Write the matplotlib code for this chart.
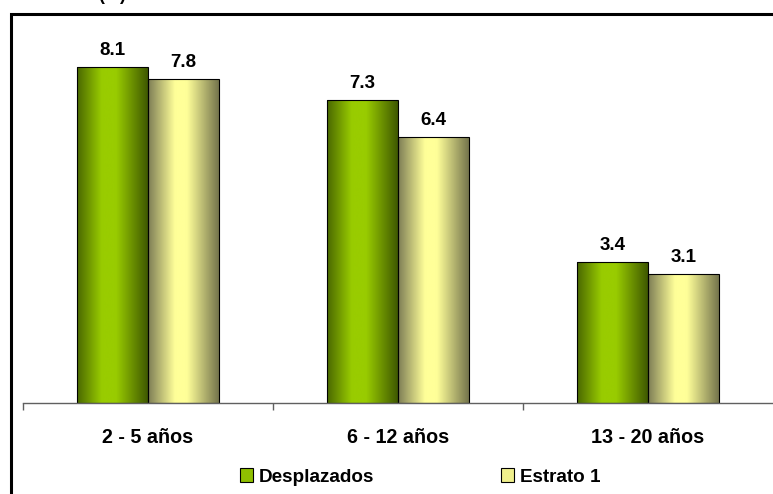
#!/usr/bin/python
import matplotlib.pyplot as plt
import matplotlib.patches as mpatches
from matplotlib.colors import LinearSegmentedColormap
import numpy as np

plt.rcParams['font.family'] = ['Liberation Sans', 'DejaVu Sans']
plt.rcParams['font.weight'] = 'bold'

categories = ['2 - 5 años', '6 - 12 años', '13 - 20 años']
desplazados = [8.1, 7.3, 3.4]
estrato1 = [7.8, 6.4, 3.1]
series_names = ['Desplazados', 'Estrato 1']

# cylinder-like shading across each bar: dark edge, bright middle, dark edge
green_cmap = LinearSegmentedColormap.from_list(
    'green', [(0.0, '#4a6800'), (0.35, '#99cc00'), (0.55, '#99cc00'), (1.0, '#3f5800')])
yellow_cmap = LinearSegmentedColormap.from_list(
    'yellow', [(0.0, '#7d7d55'), (0.38, '#ffff99'), (0.55, '#ffff99'), (1.0, '#74744c')])


def shade_bars(ax, rects, cmap):
    grad = np.linspace(0, 1, 256).reshape(1, -1)
    for rect in rects:
        x0, y0 = rect.get_x(), rect.get_y()
        x1, y1 = x0 + rect.get_width(), y0 + rect.get_height()
        im = ax.imshow(grad, extent=[x0, x1, y0, y1], aspect='auto', cmap=cmap,
                       interpolation='bicubic', zorder=rect.get_zorder())
        im.set_clip_path(rect)
        rect.set_facecolor('none')
        rect.set_zorder(rect.get_zorder() + 0.1)


def autolabel(ax, rects):
    for rect in rects:
        height = rect.get_height()
        ax.annotate('%.1f' % height, xy=(rect.get_x() + rect.get_width() / 2, height),
                    xytext=(0, 6), textcoords='offset points',
                    ha='center', va='bottom', fontsize=13.5, fontweight='bold')


fig = plt.figure(figsize=(7.73, 4.94), dpi=100)
ax = fig.add_axes([23 / 773, 1 - 403 / 494, 1 - 23 / 773, (403 - 29.5) / 494])

x = np.arange(len(categories))
width = 0.284
b1 = ax.bar(x - width / 2, desplazados, width, color='#99cc00', edgecolor='black',
            linewidth=0.8, zorder=2, label=series_names[0])
b2 = ax.bar(x + width / 2, estrato1, width, color='#ffff99', edgecolor='black',
            linewidth=0.8, zorder=2, label=series_names[1])
shade_bars(ax, b1, green_cmap)
shade_bars(ax, b2, yellow_cmap)
autolabel(ax, b1)
autolabel(ax, b2)

ax.set_xlim(-0.5, len(categories) - 0.5)
ax.set_ylim(0, 9)
for side in ['left', 'right', 'top']:
    ax.spines[side].set_visible(False)
ax.spines['bottom'].set_color('#606060')
ax.spines['bottom'].set_linewidth(1)
ax.set_yticks([])
ax.set_xticks(x)
ax.set_xticklabels(categories, fontsize=14.2, fontweight='bold')
ax.tick_params(axis='x', which='major', length=0, pad=18)
ax.set_xticks(np.arange(len(categories)) - 0.5, minor=True)
ax.tick_params(axis='x', which='minor', length=5, color='#606060', width=1)

handles = [mpatches.Patch(facecolor='#8fbf00', edgecolor='black', linewidth=0.8),
           mpatches.Patch(facecolor='#f0f08c', edgecolor='black', linewidth=0.8)]
fig.legend(handles, series_names, loc='center', bbox_to_anchor=(420 / 773, 1 - 477 / 494),
           ncol=2, frameon=False, fontsize=13.6, handlelength=0.7, handleheight=0.7,
           handletextpad=0.3, columnspacing=6.7, borderpad=0)

# outer frame, open on the right and bottom
frame = mpatches.Rectangle((10.5 / 773, -0.05), 1.1, 1 - 14 / 494 + 0.05,
                           transform=fig.transFigure, fill=False, edgecolor='black',
                           linewidth=2.2, clip_on=False)
fig.patches.append(frame)
fig.text(112 / 773, 1.0, '(%)', ha='center', va='baseline', fontsize=13, fontweight='bold')

fig.savefig('out.png', dpi=100)
plt.close()
